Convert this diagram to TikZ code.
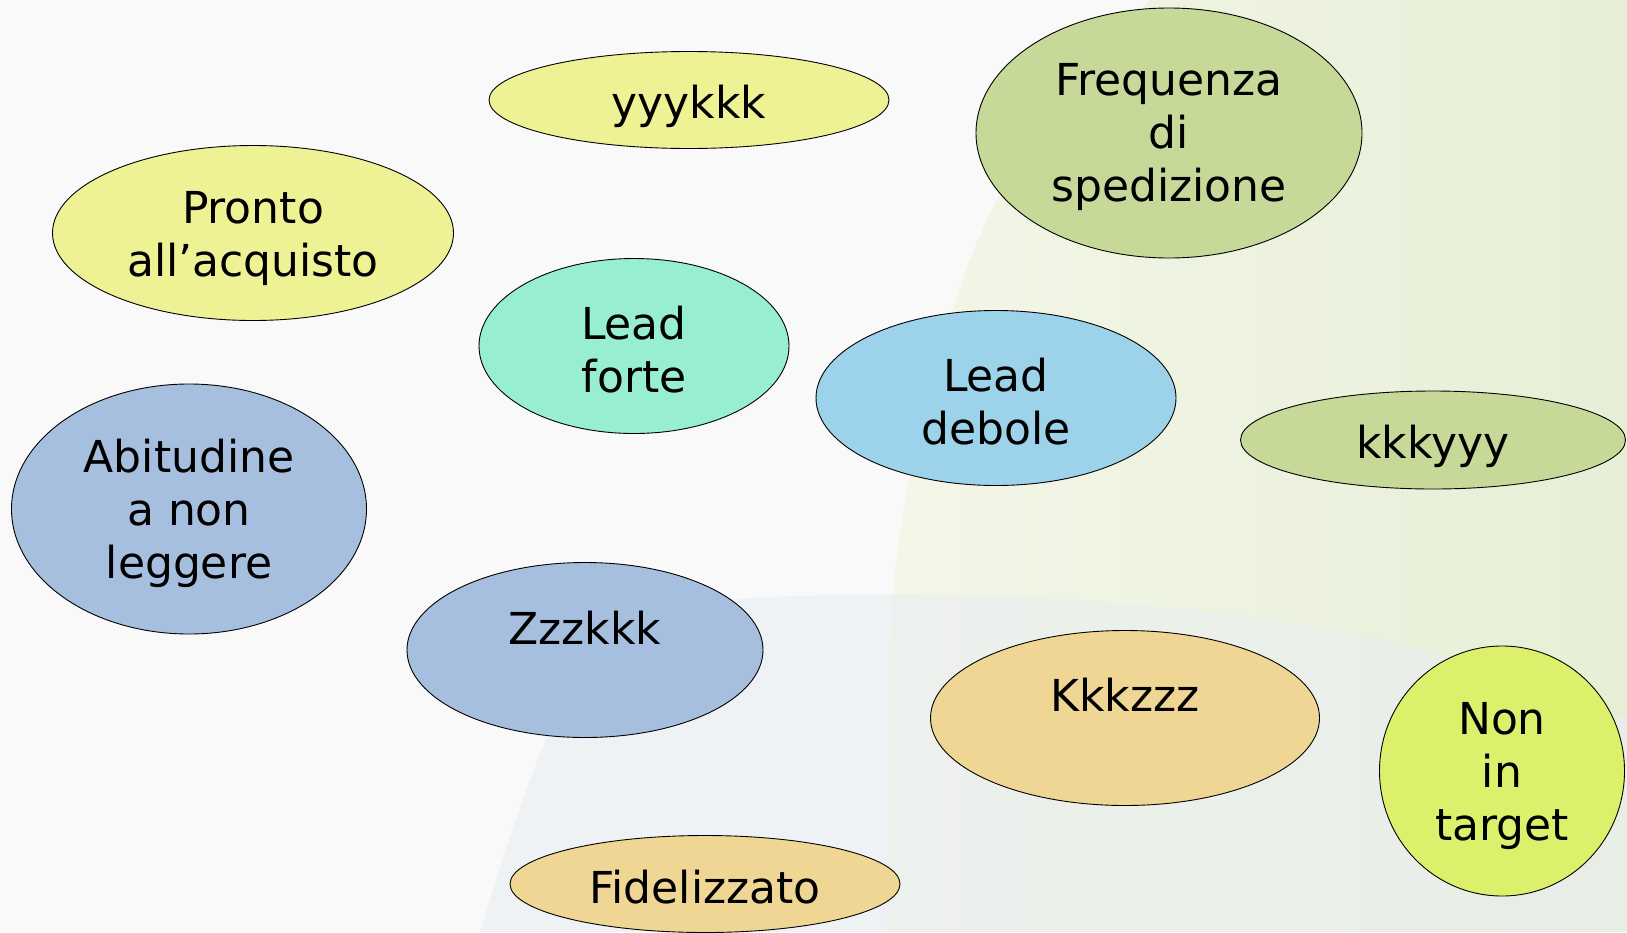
\documentclass[tikz,border=0pt]{standalone}
\usepackage{fontspec}
\setmainfont{DejaVu Sans}
\usetikzlibrary{shapes.geometric}
\definecolor{bgc}{HTML}{F9F9F9}
\definecolor{grnA}{HTML}{F4F6E8}
\definecolor{grnB}{HTML}{E6EFD6}
\definecolor{bluA}{HTML}{E9EEF1}
\definecolor{cYel}{HTML}{EEF194}
\definecolor{cOlive}{HTML}{C6D998}
\definecolor{cMint}{HTML}{98EED0}
\definecolor{cSky}{HTML}{9CD3EA}
\definecolor{cSteel}{HTML}{A7BFDF}
\definecolor{cSand}{HTML}{F0D695}
\definecolor{cLime}{HTML}{DCF06C}
\begin{document}
\begin{tikzpicture}[x=1pt,y=-1pt,
  ell/.style={ellipse, draw=black, line width=0.9pt, inner sep=0pt},
  lbl/.style={font=\fontsize{44}{53}\selectfont, text=black, inner sep=0pt, align=center}]
\useasboundingbox (0,0) rectangle (1627,932);
\fill[bgc] (0,0) rectangle (1627,932);
% pale green background region
\shade[left color=grnA, right color=grnB]
  (1150,0) .. controls (1060,90) and (1000,180) .. (970,260)
  .. controls (925,380) and (895,520) .. (890,640)
  -- (887,932) -- (1627,932) -- (1627,0) -- cycle;
% pale blue-grey bottom region
\fill[bluA, fill opacity=0.6]
  (480,932) .. controls (520,800) and (560,680) .. (620,610)
  .. controls (800,585) and (1100,590) .. (1300,625)
  .. controls (1450,650) and (1560,690) .. (1627,720)
  -- (1627,932) -- cycle;
% ellipses
\node[ell, fill=cYel, minimum width=400pt, minimum height=97pt] (yk) at (689,100) {};
\node[ell, fill=cOlive, minimum width=386pt, minimum height=250pt] (freq) at (1169,133) {};
\node[ell, fill=cYel, minimum width=401pt, minimum height=175pt] (pronto) at (253,233) {};
\node[ell, fill=cMint, minimum width=310pt, minimum height=175pt] (lf) at (634,346) {};
\node[ell, fill=cSky, minimum width=360pt, minimum height=175pt] (ld) at (996,398) {};
\node[ell, fill=cOlive, minimum width=385pt, minimum height=98pt] (ky) at (1433,440) {};
\node[ell, fill=cSteel, minimum width=355pt, minimum height=250pt] (abit) at (189,509) {};
\node[ell, fill=cSteel, minimum width=356pt, minimum height=175pt] (zk) at (585,650) {};
\node[ell, fill=cSand, minimum width=389pt, minimum height=175pt] (kz) at (1125,718) {};
\node[ell, fill=cLime, minimum width=245pt, minimum height=250pt] (non) at (1502,771) {};
\node[ell, fill=cSand, minimum width=390pt, minimum height=97pt] (fid) at (705,884) {};
% texts
\node[lbl] (ykt) at ([yshift=-6pt]yk.center) {yyykkk};
\node[lbl] (freqt) at ([yshift=-4pt]freq.center) {Frequenza\\di\\spedizione};
\node[lbl] (prontot) at ([yshift=-6pt]pronto.center) {Pronto\\all’acquisto};
\node[lbl] (lft) at ([yshift=-4pt]lf.center) {Lead\\forte};
\node[lbl] (ldt) at ([yshift=-4pt]ld.center) {Lead\\debole};
\node[lbl] (kyt) at ([yshift=-6pt]ky.center) {kkkyyy};
\node[lbl] (abitt) at ([yshift=-4pt]abit.center) {Abitudine\\a non\\leggere};
\node[lbl] (zkt) at ([yshift=22pt]zk.center) {Zzzkkk};
\node[lbl] (kzt) at ([yshift=23pt]kz.center) {Kkkzzz};
\node[lbl] (nont) at ([yshift=-5pt]non.center) {Non\\in\\target};
\node[lbl] (fidt) at ([yshift=-3pt]fid.center) {Fidelizzato};
\end{tikzpicture}
\end{document}
